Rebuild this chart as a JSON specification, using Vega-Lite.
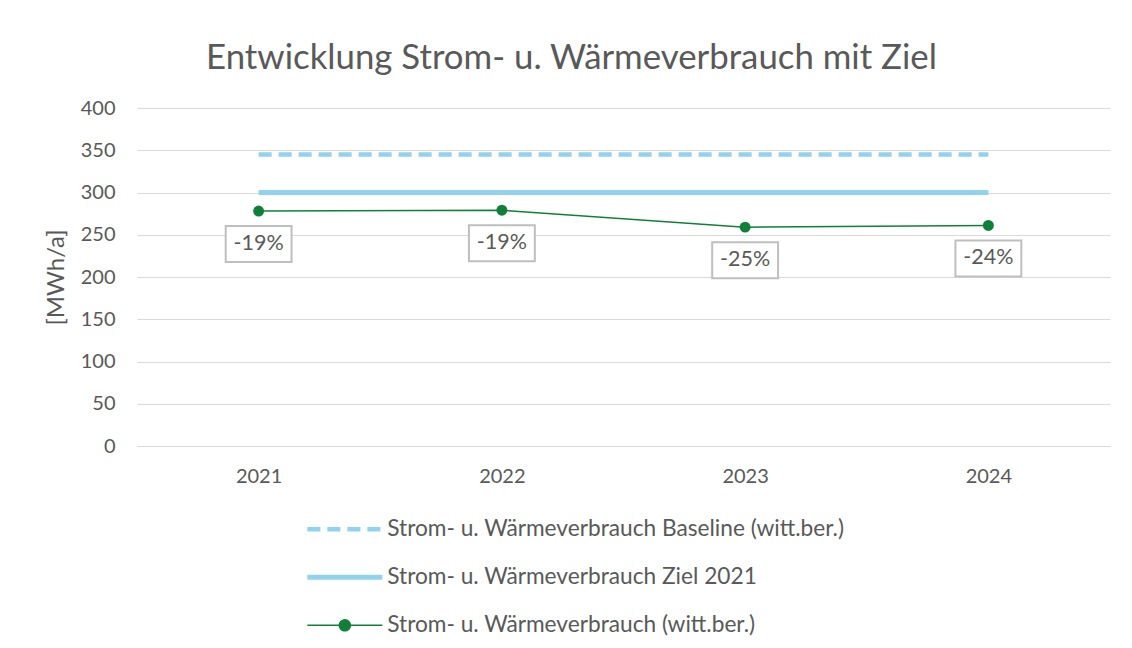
{
  "$schema": "https://vega.github.io/schema/vega-lite/v6.json",
  "width": 973,
  "height": 338,
  "autosize": "none",
  "padding": {"left": 137, "top": 108, "right": 22, "bottom": 202},
  "background": "white",
  "config": {"font": "Lato", "view": {"stroke": null}},
  "title": {
    "text": "Entwicklung Strom- u. Wärmeverbrauch  mit Ziel",
    "anchor": "middle",
    "frame": "group",
    "dx": -52,
    "offset": 21,
    "fontSize": 34.8,
    "font": "Lato",
    "fontWeight": "normal",
    "color": "#595959"
  },
  "datasets": {
    "lines": [
      {"year": "2021", "series": "Strom- u. Wärmeverbrauch Baseline (witt.ber.)", "value": 345},
      {"year": "2022", "series": "Strom- u. Wärmeverbrauch Baseline (witt.ber.)", "value": 345},
      {"year": "2023", "series": "Strom- u. Wärmeverbrauch Baseline (witt.ber.)", "value": 345},
      {"year": "2024", "series": "Strom- u. Wärmeverbrauch Baseline (witt.ber.)", "value": 345},
      {"year": "2021", "series": "Strom- u. Wärmeverbrauch Ziel 2021", "value": 300},
      {"year": "2022", "series": "Strom- u. Wärmeverbrauch Ziel 2021", "value": 300},
      {"year": "2023", "series": "Strom- u. Wärmeverbrauch Ziel 2021", "value": 300},
      {"year": "2024", "series": "Strom- u. Wärmeverbrauch Ziel 2021", "value": 300},
      {"year": "2021", "series": "Strom- u. Wärmeverbrauch (witt.ber.)", "value": 278},
      {"year": "2022", "series": "Strom- u. Wärmeverbrauch (witt.ber.)", "value": 279},
      {"year": "2023", "series": "Strom- u. Wärmeverbrauch (witt.ber.)", "value": 259},
      {"year": "2024", "series": "Strom- u. Wärmeverbrauch (witt.ber.)", "value": 261}
    ],
    "labels": [
      {"year": "2021", "value": 278, "label": "-19%"},
      {"year": "2022", "value": 279, "label": "-19%"},
      {"year": "2023", "value": 259, "label": "-25%"},
      {"year": "2024", "value": 261, "label": "-24%"}
    ]
  },
  "layer": [
    {
      "data": {"name": "lines"},
      "transform": [{"filter": "datum.series === 'Strom- u. Wärmeverbrauch Baseline (witt.ber.)'"}],
      "mark": {"type": "line", "strokeDash": [13, 7], "strokeWidth": 4.5},
      "encoding": {
        "x": {
          "field": "year", "type": "ordinal", "scale": {"padding": 0.5},
          "axis": {"title": null, "labelAngle": 0, "ticks": false, "tickSize": 0, "domain": true, "domainColor": "#D9D9D9", "grid": false, "labelFontSize": 20, "labelColor": "#595959", "labelPadding": 20, "labelFont": "Lato"}
        },
        "y": {
          "field": "value", "type": "quantitative", "scale": {"domain": [0, 400], "nice": false},
          "axis": {"title": "[MWh/a]", "values": [0, 50, 100, 150, 200, 250, 300, 350, 400], "domain": false, "ticks": false, "tickSize": 0, "grid": true, "gridColor": "#D9D9D9", "gridWidth": 1, "labelFontSize": 20, "labelColor": "#595959", "labelPadding": 22, "labelFont": "Lato", "titleFontSize": 24, "titleFontWeight": "normal", "titleColor": "#595959", "titleFont": "Lato", "titlePadding": 12}
        },
        "color": {
          "field": "series", "type": "nominal",
          "scale": {
            "domain": ["Strom- u. Wärmeverbrauch Baseline (witt.ber.)", "Strom- u. Wärmeverbrauch Ziel 2021", "Strom- u. Wärmeverbrauch (witt.ber.)"],
            "range": ["#91D2F1", "#91D2F1", "#108038"]
          },
          "legend": {
            "orient": "none",
            "legendX": 164,
            "legendY": 410,
            "direction": "vertical",
            "title": null,
            "labelFontSize": 22.7,
            "labelColor": "#595959",
            "labelFont": "Lato",
            "labelOffset": 63.5,
            "labelLimit": 800,
            "rowPadding": 24,
            "symbolSize": 100,
            "encode": {
              "symbols": {
                "update": {
                  "shape": {"signal": "datum.value === 'Strom- u. Wärmeverbrauch (witt.ber.)' ? 'M-1,0H14M7.6,0A1.1,1.1 0 1 1 5.4,0A1.1,1.1 0 1 1 7.6,0Z' : 'M-1,0H14'"},
                  "strokeDash": {"signal": "datum.value === 'Strom- u. Wärmeverbrauch Baseline (witt.ber.)' ? [13,7] : [1,0]"},
                  "strokeWidth": {"signal": "(datum.value === 'Strom- u. Wärmeverbrauch Baseline (witt.ber.)' ? 4.5 : (datum.value === 'Strom- u. Wärmeverbrauch Ziel 2021' ? 5 : 1.5))"},
                  "fill": {"signal": "datum.value === 'Strom- u. Wärmeverbrauch (witt.ber.)' ? '#108038' : 'transparent'"},
                  "stroke": {"signal": "datum.value === 'Strom- u. Wärmeverbrauch (witt.ber.)' ? '#108038' : '#91D2F1'"},
                  "opacity": {"value": 1}
                }
              }
            }
          }
        }
      }
    },
    {
      "data": {"name": "lines"},
      "transform": [{"filter": "datum.series === 'Strom- u. Wärmeverbrauch Ziel 2021'"}],
      "mark": {"type": "line", "strokeWidth": 5},
      "encoding": {
        "x": {"field": "year", "type": "ordinal"},
        "y": {"field": "value", "type": "quantitative"},
        "color": {"field": "series", "type": "nominal"}
      }
    },
    {
      "data": {"name": "lines"},
      "transform": [{"filter": "datum.series === 'Strom- u. Wärmeverbrauch (witt.ber.)'"}],
      "mark": {"type": "line", "strokeWidth": 1.5},
      "encoding": {
        "x": {"field": "year", "type": "ordinal"},
        "y": {"field": "value", "type": "quantitative"},
        "color": {"field": "series", "type": "nominal"}
      }
    },
    {
      "data": {"name": "lines"},
      "transform": [{"filter": "datum.series === 'Strom- u. Wärmeverbrauch (witt.ber.)'"}],
      "mark": {"type": "point", "filled": true, "size": 120, "color": "#108038", "opacity": 1},
      "encoding": {
        "x": {"field": "year", "type": "ordinal"},
        "y": {"field": "value", "type": "quantitative"}
      }
    },
    {
      "data": {"name": "labels"},
      "mark": {"type": "point", "shape": "M-1.83,-1H1.83V1H-1.83Z", "size": 1296, "filled": true, "fill": "white", "stroke": "#BFBFBF", "strokeWidth": 2, "opacity": 1, "fillOpacity": 1, "strokeOpacity": 1, "yOffset": 33},
      "encoding": {
        "x": {"field": "year", "type": "ordinal"},
        "y": {"field": "value", "type": "quantitative"}
      }
    },
    {
      "data": {"name": "labels"},
      "mark": {"type": "text", "fontSize": 21.5, "font": "Lato", "color": "#595959", "align": "center", "baseline": "middle", "yOffset": 33},
      "encoding": {
        "x": {"field": "year", "type": "ordinal"},
        "y": {"field": "value", "type": "quantitative"},
        "text": {"field": "label", "type": "nominal"}
      }
    }
  ]
}
